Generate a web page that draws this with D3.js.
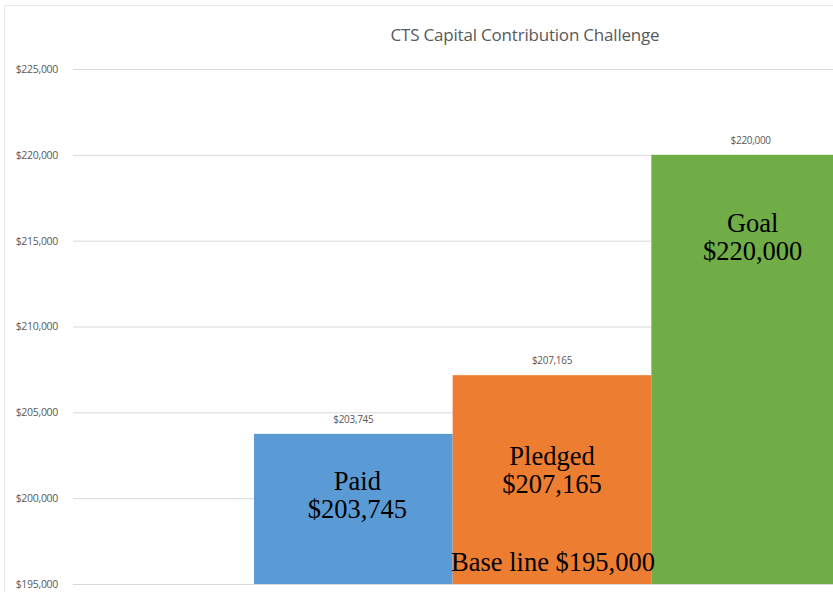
<!DOCTYPE html>
<html>
<head>
<meta charset="utf-8">
<script src="https://cdn.jsdelivr.net/npm/d3@7"></script>
<style>
  body { margin: 0; background: #fff; }
  svg { display: block; }
</style>
</head>
<body>
<div id="chart"></div>
<script>
// chart values
const categories = ['Paid', 'Pledged', 'Goal']
const values = [203745, 207165, 220000]
const barColors = ['#5b9bd5', '#ed7d31', '#70ad47']
const yTicks = [195000, 200000, 205000, 210000, 215000, 220000, 225000]
const chartTitle = 'CTS Capital Contribution Challenge'
const baseLineText = 'Base line $195,000'

const width = 833
const height = 592

const svg = d3.select('#chart')
  .append('svg')
  .attr('width', width)
  .attr('height', height)

// chart frame
svg.append('rect')
  .attr('x', 4.5)
  .attr('y', 5.5)
  .attr('width', width + 10)
  .attr('height', height + 10)
  .attr('fill', 'none')
  .attr('stroke', '#e6e6e6')

const y = d3.scaleLinear()
  .domain([195000, 225000])
  .range([584, 69])

const x = d3.scaleBand()
  .domain(categories)
  .range([254, 850])
  .padding(0)

const fmt = d3.format('$,')
const sans = '"Open Sans", sans-serif'

// gridlines + tick labels
const grid = svg.append('g')
  .attr('transform', 'translate(73,0)')
  .call(d3.axisLeft(y).tickValues(yTicks).tickSize(-(width - 73)).tickFormat(fmt).tickPadding(15))
grid.select('.domain').remove()
grid.selectAll('.tick line').attr('stroke', '#d9d9d9')
grid.selectAll('.tick text')
  .attr('fill', '#595959')
  .style('font-family', sans)
  .style('font-size', '10.5px')
  .attr('letter-spacing', '-0.3')

svg.append('text')
  .attr('x', 525)
  .attr('y', 41)
  .attr('text-anchor', 'middle')
  .attr('fill', '#595959')
  .style('font-family', sans)
  .style('font-size', '17px')
  .attr('letter-spacing', '-0.2')
  .text(chartTitle)

// bars
svg.selectAll('.bar')
  .data(categories)
  .enter()
  .append('rect')
  .attr('class', 'bar')
  .attr('x', d => x(d))
  .attr('y', (d, i) => y(values[i]))
  .attr('width', x.bandwidth())
  .attr('height', (d, i) => y(195000) - y(values[i]))
  .attr('fill', (d, i) => barColors[i])

// value labels above bars
svg.selectAll('.vlabel')
  .data(categories)
  .enter()
  .append('text')
  .attr('class', 'vlabel')
  .attr('x', d => x(d) + x.bandwidth() / 2)
  .attr('y', (d, i) => y(values[i]) - 11)
  .attr('text-anchor', 'middle')
  .attr('fill', '#595959')
  .style('font-family', sans)
  .style('font-size', '10px')
  .attr('letter-spacing', '-0.3')
  .text((d, i) => fmt(values[i]))

// pasted annotations (serif text over the bars)
const annot = svg.append('g')
  .style('font-family', '"Liberation Serif", "Times New Roman", serif')
  .style('font-size', '26.5px')
  .attr('fill', '#000')
const annotOffset = { Paid: [4, 56], Pledged: [0, 90], Goal: [2, 77] }
categories.forEach((c, i) => {
  const cx = x(c) + x.bandwidth() / 2 + annotOffset[c][0]
  const ty = y(values[i]) + annotOffset[c][1]
  const t = annot.append('text').attr('x', cx).attr('y', ty).attr('text-anchor', 'middle')
  t.append('tspan').attr('x', cx).text(c)
  t.append('tspan').attr('x', cx).attr('dy', 28).text(fmt(values[i]))
})
annot.append('text')
  .attr('x', x('Pledged') + x.bandwidth() / 2 + 1)
  .attr('y', y(195000) - 13)
  .attr('text-anchor', 'middle')
  .text(baseLineText)
</script>
</body>
</html>
